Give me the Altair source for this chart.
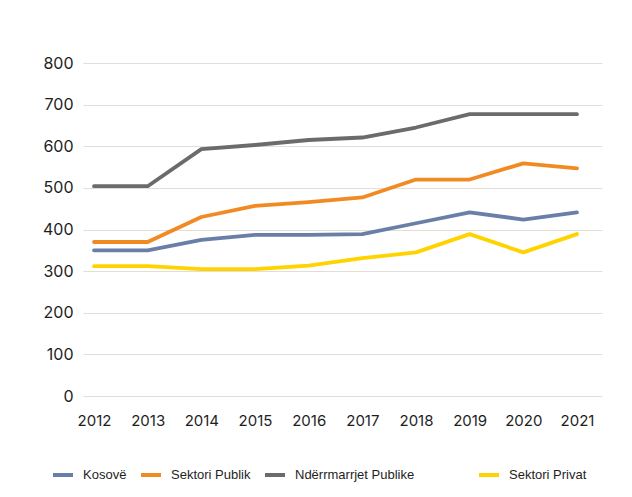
import altair as alt
import pandas as pd

years = [2012, 2013, 2014, 2015, 2016, 2017, 2018, 2019, 2020, 2021]
series_names = ["Kosovë", "Sektori Publik", "Ndërrmarrjet Publike", "Sektori Privat"]
kosove = [350, 350, 375, 387, 387, 389, 415, 441, 424, 441]
sektori_publik = [370, 370, 430, 457, 466, 477, 520, 520, 559, 547]
nderrmarrjet = [504, 504, 593, 603, 615, 621, 645, 677, 677, 677]
sektori_privat = [312, 312, 305, 305, 313, 331, 345, 389, 345, 389]
colors = ["#6A7FA8", "#F28A24", "#6B6B6B", "#FFD300"]
y_ticks = [0, 100, 200, 300, 400, 500, 600, 700, 800]

values = [kosove, sektori_publik, nderrmarrjet, sektori_privat]
rows = []
for name, vals in zip(series_names, values):
    for yr, v in zip(years, vals):
        rows.append({"Viti": yr, "Vlera": v, "Seria": name})
df = pd.DataFrame(rows)

pad = "\u2800" * 5
label_expr = "datum.label == 'Ndërrmarrjet Publike' ? datum.label + '" + pad + "' : datum.label"

chart = alt.Chart(df).mark_line(strokeWidth=3.8, strokeCap="round", strokeJoin="round").encode(
    x=alt.X("Viti:Q",
            scale=alt.Scale(domain=[2011.795, 2021.466], nice=False, zero=False),
            axis=alt.Axis(values=years, format="d", title=None, grid=False, domain=False,
                          ticks=False, labelPadding=17, labelFontSize=15,
                          labelFont="Inter", labelColor="#1E1E1E", labelFlush=False)),
    y=alt.Y("Vlera:Q",
            scale=alt.Scale(domain=[0, 800], nice=False),
            axis=alt.Axis(values=y_ticks, title=None, domain=False, ticks=False,
                          labelPadding=10, labelFontSize=16, labelFont="Inter",
                          labelColor="#1E1E1E", gridColor="#E2DDD5", gridWidth=1)),
    color=alt.Color("Seria:N",
                    scale=alt.Scale(domain=series_names, range=colors),
                    sort=series_names,
                    legend=alt.Legend(title=None, orient="none", legendX=-32, legendY=400,
                                      direction="horizontal", columns=4,
                                      symbolType="stroke", symbolSize=400,
                                      symbolStrokeWidth=4, labelFont="Liberation Sans",
                                      labelFontSize=13, labelColor="#1E1E1E",
                                      labelOffset=8, columnPadding=6,
                                      labelExpr=label_expr, labelLimit=400)),
).properties(
    width=519,
    height=333,
    autosize=alt.AutoSizeParams(type="none"),
    padding={"left": 75, "top": 55, "right": 22, "bottom": 93},
    background="white",
).configure_view(stroke=None)

chart.save("out.html", embed_options={"renderer": "svg", "actions": False})
